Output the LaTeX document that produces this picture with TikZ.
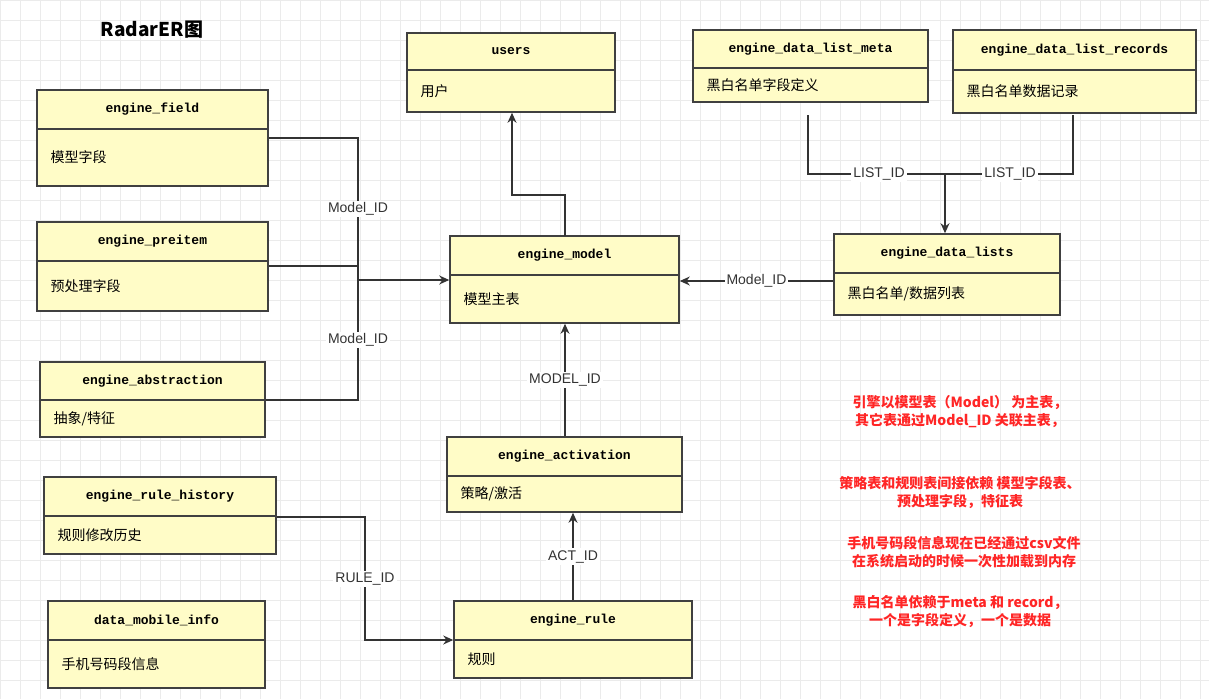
\documentclass[tikz,border=0pt]{standalone}
\usepackage{fontspec}
\setmainfont{Liberation Sans}
\newfontfamily\cjk{Noto Sans CJK SC}
\newfontfamily\mono{Liberation Mono}
\usetikzlibrary{arrows.meta, positioning, calc}

% one ER table: name, x1, y1, x2, y2, divider y, title, body
\newcommand{\ertable}[8]{
  \node[tbl, minimum width={(#4-#2)*1pt}, minimum height={(#5-#3)*1pt}]
    (#1) at ({(#2+#4)/2},{(#3+#5)/2}) {};
  \draw[tblline] (#2,#6) -- (#4,#6);
  \node[title] (#1-t) at ({(#2+#4)/2},{(#3+#6)/2}) {#7};
  \node[body, anchor=west] (#1-b) at ({#2+10},{(#6+#5)/2}) {#8};
}

\begin{document}
\begin{tikzpicture}[x=1pt, y=-1pt,
    tbl/.style={draw=black!75, line width=1.6pt, fill=yellow!22, inner sep=0pt},
    tblline/.style={draw=black!75, line width=1.4pt},
    title/.style={font=\mono\bfseries\fontsize{13}{15}\selectfont},
    body/.style={font=\cjk\fontsize{14}{16}\selectfont},
    link/.style={draw=black!80, line width=1.2pt},
    arrow/.style={link, -{Stealth[length=10pt, width=9pt]}},
    lab/.style={fill=white, inner sep=2pt, font=\fontsize{14}{16}\selectfont, text=black!80},
    note/.style={text=red!85, font=\cjk\bfseries\fontsize{14}{18}\selectfont, align=center}
]
\fill[white] (0,0) rectangle (1209,699);
\useasboundingbox (0,0) rectangle (1209,699);
\foreach \x in {0,20,...,1200} \draw[black!8] (\x,0) -- (\x,699);
\foreach \y in {0,20,...,690} \draw[black!8] (0,\y) -- (1209,\y);

\node[font=\cjk\bfseries\fontsize{19}{22}\selectfont] (head) at (152,30) {RadarER图};

\ertable{users}{407}{33}{615}{112}{70}{users}{用户}
\ertable{field}{37}{90}{268}{186}{129}{engine\_field}{模型字段}
\ertable{preitem}{37}{222}{268}{311}{261}{engine\_preitem}{预处理字段}
\ertable{abstr}{40}{362}{265}{437}{400}{engine\_abstraction}{抽象/特征}
\ertable{history}{44}{477}{276}{554}{516}{engine\_rule\_history}{规则修改历史}
\ertable{mobile}{48}{601}{265}{688}{640}{data\_mobile\_info}{手机号码段信息}
\ertable{model}{450}{236}{679}{323}{275}{engine\_model}{模型主表}
\ertable{activ}{447}{437}{682}{512}{476}{engine\_activation}{策略/激活}
\ertable{rule}{454}{601}{692}{678}{640}{engine\_rule}{规则}
\ertable{meta}{693}{30}{928}{102}{68}{engine\_data\_list\_meta}{黑白名单字段定义}
\ertable{records}{953}{30}{1196}{113}{70}{engine\_data\_list\_records}{黑白名单数据记录}
\ertable{lists}{834}{234}{1060}{315}{273}{engine\_data\_lists}{黑白名单/数据列表}

% joints
\coordinate (j1) at (358,280);
\coordinate (j2) at (512,195);
\coordinate (j3) at (945,174);

\draw[link] (field.east |- 0,138) -| (j1);
\draw[link] (preitem.east |- 0,266) -- (j1 |- 0,266);
\draw[link] (abstr.east |- 0,400) -| (j1);
\draw[arrow] (j1) -- (model.west |- j1);
\node[lab] (l1) at (358,209) {Model\_ID};
\node[lab] (l2) at (358,340) {Model\_ID};

\draw[arrow] (565,236) |- (j2) -- (users.south -| j2);
\draw[arrow] (activ.north -| 565,0) -- (model.south -| 565,0)
  node[lab, midway] (l3) {MODEL\_ID};
\draw[arrow] (rule.north -| 573,0) -- (activ.south -| 573,0)
  node[lab, midway] (l4) {ACT\_ID};
\draw[arrow] (history.east |- 0,517) -| (365,640) -- (rule.west |- 0,640);
\node[lab] (l5) at (365,579) {RULE\_ID};
\draw[arrow] (lists.west |- 0,281) -- (model.east |- 0,281)
  node[lab, midway] (l6) {Model\_ID};

\draw[link] (808,115) |- (j3);
\draw[link] (1073,115) |- (j3);
\draw[arrow] (j3) -- (lists.north -| j3);
\node[lab] (l7) at (879,174) {LIST\_ID};
\node[lab] (l8) at (1010,174) {LIST\_ID};

\node[note] (n1) at (960,412) {引擎以模型表（Model） 为主表，\\其它表通过Model\_ID 关联主表，};
\node[note] (n2) at (960,492) {策略表和规则表间接依赖 模型字段表、\\预处理字段，特征表};
\node[note] (n3) at (964,552) {手机号码段信息现在已经通过csv文件\\在系统启动的时候一次性加载到内存};
\node[note] (n4) at (960,612) {黑白名单依赖于meta 和 record，\\一个是字段定义，一个是数据};
\end{tikzpicture}
\end{document}
